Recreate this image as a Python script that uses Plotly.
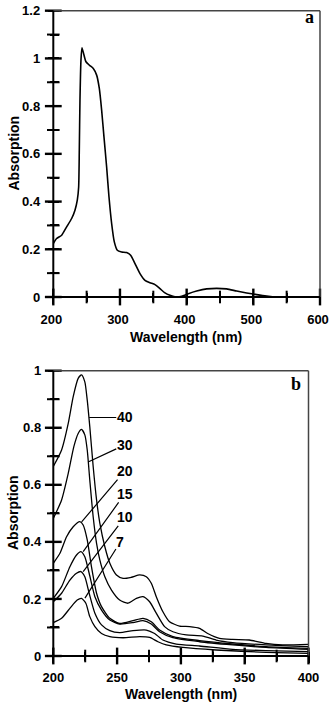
import plotly.graph_objects as go

# ---------------- Data: panel a ----------------
wl_a = [200, 205, 212.5, 220, 227.5, 232.5, 236, 238, 239, 240, 241.5, 243, 246, 249, 254, 260,
        265, 269, 272.5, 276, 280, 283.5, 287.5, 291.5, 296, 302.5, 310, 316, 322.5, 330, 337.5,
        345, 352.5, 360, 367.5, 375, 382.5, 392.5, 402.5, 415, 430, 445, 460, 475, 490, 505,
        520, 535, 550]
abs_a = [0.224, 0.245, 0.259, 0.294, 0.329, 0.364, 0.406, 0.46, 0.615, 0.825, 0.993, 1.045, 1.014,
         0.986, 0.972, 0.958, 0.93, 0.874, 0.783, 0.671, 0.545, 0.42, 0.308, 0.231, 0.196, 0.189,
         0.186, 0.175, 0.14, 0.098, 0.07, 0.06, 0.052, 0.035, 0.017, 0.007, 0.001, 0.003, 0.014,
         0.025, 0.034, 0.036, 0.034, 0.025, 0.017, 0.01, 0.004, 0.0, 0.0]

# ---------------- Data: panel b ----------------
wl_40 = [200, 206.5, 211.7, 215.6, 219.5, 222.1, 224.7, 226.6, 228.6, 231.25, 233.9, 236.5, 240.4,
         244.3, 249.5, 254.7, 261.2, 267.7, 272.9, 276.8, 280.7, 285.9, 291.1, 299, 306.8, 314.6,
         321, 330.2, 340.6, 353.6, 366.7, 379.7, 400]
abs_40 = [0.664, 0.722, 0.815, 0.909, 0.973, 0.985, 0.961, 0.897, 0.804, 0.664, 0.547, 0.465, 0.383,
          0.325, 0.284, 0.272, 0.276, 0.284, 0.278, 0.255, 0.208, 0.155, 0.12, 0.105, 0.103, 0.097,
          0.079, 0.062, 0.058, 0.056, 0.044, 0.039, 0.041]

wl_30 = [200, 206.5, 211.7, 216.1, 219.5, 222.1, 224.7, 226.6, 228.6, 231.25, 233.9, 236.5, 240.4,
         245.6, 252, 258.6, 265.1, 270.3, 275.5, 280.7, 287.2, 293.75, 304.2, 317.2, 327.6, 340.6,
         366.7, 400]
abs_30 = [0.482, 0.547, 0.64, 0.734, 0.78, 0.794, 0.775, 0.722, 0.617, 0.488, 0.395, 0.336, 0.278,
          0.231, 0.196, 0.185, 0.202, 0.208, 0.19, 0.15, 0.103, 0.085, 0.074, 0.07, 0.056, 0.047,
          0.039, 0.033]

wl_20 = [200, 205.2, 210.4, 215.6, 220.8, 223.4, 226.6, 229.9, 233.9, 237.8, 244.3, 252, 262.5,
         270.3, 276.8, 283.3, 293.75, 314.6, 340.6, 366.7, 400]
abs_20 = [0.325, 0.36, 0.418, 0.453, 0.471, 0.459, 0.407, 0.313, 0.22, 0.173, 0.132, 0.114, 0.124,
          0.132, 0.12, 0.091, 0.068, 0.054, 0.042, 0.033, 0.027]

wl_15 = [200, 206.5, 213, 218.2, 221.6, 224.7, 228.1, 232.6, 237.8, 244.3, 252, 262.5, 270.3, 276.8,
         283.3, 293.75, 314.6, 340.6, 366.7, 400]
abs_15 = [0.202, 0.243, 0.313, 0.354, 0.366, 0.348, 0.29, 0.208, 0.161, 0.126, 0.112, 0.117, 0.124,
          0.112, 0.085, 0.064, 0.05, 0.039, 0.03, 0.023]

wl_10 = [200, 206.5, 213, 218.2, 221.6, 224.7, 228.1, 232.6, 237.8, 244.3, 252, 262.5, 272.9, 279.4,
         285.9, 296.4, 314.6, 340.6, 366.7, 400]
abs_10 = [0.19, 0.22, 0.266, 0.29, 0.296, 0.278, 0.22, 0.15, 0.109, 0.089, 0.082, 0.089, 0.091,
          0.079, 0.056, 0.042, 0.035, 0.023, 0.019, 0.015]

wl_7 = [200, 206.5, 213, 218.75, 222.1, 225.5, 228.6, 232.6, 237.8, 244.3, 254.7, 267.7, 275.5, 282,
        288.5, 301.5, 327.6, 366.7, 400]
abs_7 = [0.117, 0.132, 0.167, 0.196, 0.202, 0.185, 0.138, 0.103, 0.079, 0.068, 0.064, 0.068, 0.065,
         0.05, 0.039, 0.03, 0.021, 0.013, 0.009]

series_b = [("40", wl_40, abs_40), ("30", wl_30, abs_30), ("20", wl_20, abs_20),
            ("15", wl_15, abs_15), ("10", wl_10, abs_10), ("7", wl_7, abs_7)]

# label text positions (data coords) and leader end points on curves
label_pos = {"40": (256, 0.836), "30": (256, 0.74), "20": (256, 0.648),
             "15": (256, 0.568), "10": (256, 0.486), "7": (252.6, 0.40)}
leader_end = {"40": (228.1, 0.836), "30": (227.3, 0.68), "20": (222.2, 0.47),
              "15": (223.4, 0.366), "10": (223.4, 0.296), "7": (224.8, 0.203)}

# ticks
x_range_a = [200, 600]
y_range_a = [0, 1.2]
x_ticks_a = [200, 300, 400, 500, 600]
x_minor_a = [250, 350, 450, 550]
y_ticks_a = [0, 0.2, 0.4, 0.6, 0.8, 1, 1.2]
y_ticklabels_a = ["0", "0.2", "0.4", "0.6", "0.8", "1", "1.2"]
y_minor_a = [0.1, 0.3, 0.5, 0.7, 0.9, 1.1]

x_range_b = [200, 400]
y_range_b = [0, 1]
x_ticks_b = [200, 250, 300, 350, 400]
x_minor_b = [225, 275, 325, 375]
y_ticks_b = [0, 0.2, 0.4, 0.6, 0.8, 1]
y_ticklabels_b = ["0", "0.2", "0.4", "0.6", "0.8", "1"]
y_minor_b = [0.1, 0.3, 0.5, 0.7, 0.9]

# ---------------- Figure ----------------
W, H = 329, 703
FONT = "Liberation Sans"
SERIF = "Liberation Serif"
SHIFT = 5.5  # px: axis origin pushed inside so that its outside ticks cross the drawn axis line

fig = go.Figure()
fig.add_trace(go.Scatter(x=wl_a, y=abs_a, mode="lines", line=dict(color="black", width=1.6,
                                                                  shape="spline", smoothing=0.6),
                         xaxis="x", yaxis="y", showlegend=False, hoverinfo="skip"))
for name, xs, ys in series_b:
    fig.add_trace(go.Scatter(x=xs, y=ys, mode="lines", name=name,
                             line=dict(color="black", width=1.3, shape="spline", smoothing=0.6),
                             xaxis="x2", yaxis="y2", showlegend=False, hoverinfo="skip"))


def tick_marks(xa, ya, xr, yr, xt, xm, yt, ym):
    """Crossing tick marks drawn as line markers on the axes (through the axis scales)."""
    for vals, size, sym, is_x in ((xt, 12, "line-ns-open", True), (xm, 9, "line-ns-open", True),
                                  (yt, 12, "line-ew-open", False), (ym, 9, "line-ew-open", False)):
        if is_x:
            xs, ys = vals, [yr[0]] * len(vals)
        else:
            xs, ys = [xr[0]] * len(vals), vals
        fig.add_trace(go.Scatter(x=xs, y=ys, mode="markers", xaxis=xa, yaxis=ya,
                                 marker=dict(symbol=sym, size=size, color="black",
                                             line=dict(color="black", width=2.4 if size > 10 else 2)),
                                 cliponaxis=False, showlegend=False, hoverinfo="skip"))


tick_marks("x", "y", x_range_a, y_range_a, x_ticks_a, x_minor_a, y_ticks_a, y_minor_a)
tick_marks("x2", "y2", x_range_b, y_range_b, x_ticks_b, x_minor_b, y_ticks_b, y_minor_b)


def px_x(p):
    return p / W


def px_y(p):
    return 1 - p / H


LA, RA, TA, BA = 53.3, 320.0, 10.7, 297.0
LB, RB, TB, BB = 53.3, 308.5, 370.7, 656.0

tickfont = dict(family=FONT, size=13, color="black", weight="bold")


def axis(dom, rng, tickvals, ticktext, minor_vals, position, standoff, shift=0):
    return dict(domain=dom, range=rng, anchor="free", position=position,
                showgrid=False, zeroline=False, showline=False, automargin=False,
                tickmode="array", tickvals=tickvals, ticktext=ticktext,
                ticks="outside", ticklen=11, tickwidth=2.2, tickcolor="black",
                minor=dict(tickmode="array", tickvals=minor_vals, ticks="outside", ticklen=9,
                           tickwidth=1.8, tickcolor="black", showgrid=False),
                tickfont=tickfont, ticklabelstandoff=standoff, ticklabelshift=shift,
                ticklabeloverflow="allow", layer="above traces", fixedrange=True)


fig.update_layout(
    template="none",
    width=W, height=H, margin=dict(l=0, r=0, t=0, b=0, pad=0),
    paper_bgcolor="white", plot_bgcolor="white", showlegend=False,
    font=dict(family=FONT, color="black"),
    xaxis=axis([px_x(LA), px_x(RA)], x_range_a, x_ticks_a, [str(v) for v in x_ticks_a], x_minor_a,
               px_y(BA - SHIFT), 5, -2),
    yaxis=axis([px_y(BA), px_y(TA)], y_range_a, y_ticks_a, y_ticklabels_a, y_minor_a,
               px_x(LA + SHIFT), 5),
    xaxis2=axis([px_x(LB), px_x(RB)], x_range_b, x_ticks_b, [str(v) for v in x_ticks_b], x_minor_b,
                px_y(BB - SHIFT), 4),
    yaxis2=axis([px_y(BB), px_y(TB)], y_range_b, y_ticks_b, y_ticklabels_b, y_minor_b,
                px_x(LB + SHIFT), 4),
)

# frame: thick left/bottom axis lines, thinner top/right lines
for xr, yr in (("x", "y"), ("x2", "y2")):
    dx, dy = f"{xr} domain", f"{yr} domain"
    fig.add_shape(type="line", xref=dx, yref=dy, x0=0, x1=1, y0=1, y1=1,
                  line=dict(color="#444444", width=1.5))
    fig.add_shape(type="line", xref=dx, yref=dy, x0=1, x1=1, y0=0, y1=1,
                  line=dict(color="#444444", width=1.5))
    fig.add_shape(type="line", xref=dx, yref=dy, x0=0, x1=1, y0=0, y1=0,
                  line=dict(color="black", width=2))
    fig.add_shape(type="line", xref=dx, yref=dy, x0=0, x1=0, y0=0, y1=1,
                  line=dict(color="black", width=2))

titlefont = dict(family=FONT, size=14, color="black", weight="bold")
fig.add_annotation(text="Absorption", xref="paper", yref="paper", x=px_x(13), y=px_y(153.5),
                   textangle=-90, showarrow=False, font=titlefont, xanchor="center", yanchor="middle")
fig.add_annotation(text="Absorption", xref="paper", yref="paper", x=px_x(13), y=px_y(513),
                   textangle=-90, showarrow=False, font=titlefont, xanchor="center", yanchor="middle")
fig.add_annotation(text="Wavelength (nm)", xref="paper", yref="paper", x=px_x(186), y=px_y(337),
                   showarrow=False, font=titlefont, xanchor="center", yanchor="middle")
fig.add_annotation(text="Wavelength (nm)", xref="paper", yref="paper", x=px_x(181), y=px_y(694),
                   showarrow=False, font=titlefont, xanchor="center", yanchor="middle")

letterfont = dict(family=SERIF, size=18, color="black", weight="bold")
fig.add_annotation(text="a", xref="paper", yref="paper", x=px_x(309.5), y=px_y(17),
                   showarrow=False, font=letterfont, xanchor="center", yanchor="middle")
fig.add_annotation(text="b", xref="paper", yref="paper", x=px_x(296), y=px_y(384),
                   showarrow=False, font=letterfont, xanchor="center", yanchor="middle")

labelfont = dict(family=FONT, size=14, color="black", weight="bold")
for name, _, _ in series_b:
    lx, ly = label_pos[name]
    ex, ey = leader_end[name]
    fig.add_annotation(text=name, x=ex, y=ey, xref="x2", yref="y2", ax=lx, ay=ly,
                       axref="x2", ayref="y2", showarrow=True, arrowhead=0, arrowwidth=1.2,
                       arrowcolor="black", standoff=0, startstandoff=0, font=labelfont,
                       borderpad=0)

fig.write_html("out.html")
